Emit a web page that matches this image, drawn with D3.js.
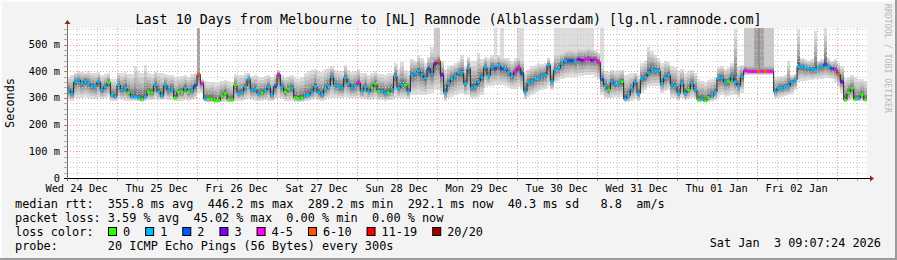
<!DOCTYPE html>
<html><head><meta charset="utf-8">
<script src="https://cdn.jsdelivr.net/npm/d3@7"></script>
<style>
html,body{margin:0;padding:0;background:#f3f3f3;}
svg{display:block;}
text{font-family:"DejaVu Sans Mono",monospace;white-space:pre;}
</style></head><body>
<svg id="c" width="897" height="260"></svg>
<script>
// ---- DATA (hourly, 240 steps over 10 days) ----
const median = [330,315,361,367,354,363,354,345,342,361,330,342,358,311,305,348,330,338,320,305,
305,301,296,305,323,320,348,323,308,348,327,333,301,323,323,338,323,327,345,388,
354,296,296,296,290,290,308,317,293,293,348,317,321,342,370,330,333,315,320,327,
342,311,342,388,342,323,333,338,301,296,301,308,311,323,342,320,311,333,345,379,
348,342,338,375,354,338,346,357,327,342,323,338,353,325,325,317,320,332,383,336,
348,348,323,386,392,401,388,375,409,390,428,438,386,320,354,371,383,395,395,354,
411,338,342,361,377,415,383,415,410,420,410,410,395,382,398,414,392,323,358,363,
370,376,382,386,424,363,405,410,428,439,440,440,436,445,440,444,446,441,445,434,
370,345,330,361,352,354,361,296,308,333,361,316,370,377,395,408,404,401,354,376,
386,348,345,317,354,317,330,354,330,292,296,289,301,308,321,375,375,358,361,380,
361,344,380,402,399,399,399,399,399,399,399,399,323,337,337,343,343,360,367,417,
417,411,411,407,407,413,417,426,417,411,407,388,361,292,320,336,294,297,311,292];
// lost pings (of 20) per step
const loss = [1,1,1,1,1,1,1,1,1,1,1,1,0,1,1,1,1,1,0,1,
1,1,0,1,0,0,1,1,1,1,1,1,0,0,0,1,0,1,2,7,
4,1,0,0,0,0,0,0,0,0,0,1,1,1,1,1,1,1,0,1,
1,1,2,4,1,0,0,1,0,0,0,1,1,1,1,1,1,1,1,1,
1,1,1,1,1,1,1,4,1,1,1,0,0,0,1,1,0,1,1,1,
1,0,1,1,1,1,1,1,2,1,3,7,3,1,1,1,1,1,1,1,
1,1,1,1,1,1,1,1,2,1,2,1,1,1,4,4,2,1,1,1,
1,1,1,1,1,1,1,1,1,1,2,2,1,3,3,4,4,3,4,4,
2,1,0,1,1,1,0,1,1,1,1,1,1,1,1,1,1,1,1,1,
1,1,1,1,1,1,0,1,1,0,1,0,0,1,1,1,1,1,0,1,
1,1,1,4,4,4,4,7,4,7,4,4,1,1,1,1,1,1,1,1,
1,1,1,1,1,1,1,2,1,2,4,7,3,0,0,0,0,1,0,0];
// fastest and slowest ping per step (ms)
const lo = [292,290,298,300,298,302,298,296,295,300,295,300,302,290,288,295,292,290,290,288,
288,287,286,288,292,292,296,294,292,296,294,294,288,290,290,292,290,292,296,320,
320,285,283,283,282,282,283,285,284,283,288,290,290,292,295,292,290,288,290,292,
290,288,295,300,295,290,290,290,286,285,286,288,290,292,295,292,290,294,298,300,
300,298,298,302,300,298,298,300,296,296,294,294,296,292,292,290,292,294,300,298,
300,298,296,310,312,315,312,310,315,320,330,330,310,288,300,305,310,315,318,310,
310,300,300,305,310,340,345,345,350,350,348,345,340,335,335,340,330,295,305,310,
320,325,330,335,345,330,360,365,370,375,378,380,380,382,382,385,385,385,380,370,
310,300,298,300,302,300,305,285,285,290,295,288,320,330,340,345,345,345,320,325,
330,300,298,292,298,292,295,300,295,285,285,283,285,288,292,305,310,305,308,312,
310,305,320,385,385,385,385,385,385,385,385,385,298,300,305,308,310,315,330,360,
365,365,368,368,370,370,372,375,375,372,360,340,320,286,288,292,288,287,290,288];
const hi = [380,385,395,400,398,395,400,395,392,398,385,388,392,372,370,395,392,398,390,388,
418,400,395,422,392,388,398,395,392,388,385,386,380,378,382,385,380,390,395,420,
372,362,358,360,356,358,365,368,362,360,388,385,386,392,395,384,386,380,378,382,
386,380,388,405,385,380,383,386,376,372,378,395,400,405,410,400,398,408,412,418,
405,402,400,425,405,398,402,408,392,395,385,395,400,390,388,386,392,395,430,410,
435,405,400,445,440,462,450,430,455,490,470,475,440,410,420,425,430,440,460,420,
455,440,438,467,445,455,450,460,455,462,455,450,448,440,450,455,450,400,410,420,
425,430,428,432,450,430,470,470,475,480,485,485,482,490,490,490,492,490,480,470,
420,400,398,405,400,402,405,385,388,392,395,385,430,440,490,475,460,450,430,440,
435,420,415,400,410,395,400,405,395,370,365,360,368,372,380,415,420,410,415,430,
560,420,425,430,430,430,430,430,430,430,430,430,380,378,382,385,440,385,390,555,
450,445,440,445,550,440,445,560,450,440,445,430,420,375,380,385,378,370,372,365];
// steps where outer smoke bands run off the top (lost pings), and how many bands
const tallIdx   = [39,110,111,128,130,135,136,146,147,148,149,150,151,152,153,154,155,156,157,160,203,204,205,206,207,208,209,210,211,227];
const tallBands = [4, 2,  2,  1,  1,  1,  1,  1,  1,  1,  1,  1,  1,  1,  1,  1,  1,  1,  1,  1,  2,  2,  2,  4,  5,  4,  2,  2,  2,  1];

const dayLabels = ["Wed 24 Dec","Thu 25 Dec","Fri 26 Dec","Sat 27 Dec","Sun 28 Dec","Mon 29 Dec","Tue 30 Dec","Wed 31 Dec","Thu 01 Jan","Fri 02 Jan"];
const yTicks = [0,100,200,300,400,500];
const lossLabels = ["0","1","2","3","4-5","6-10","11-19","20/20"];
const lossMax    = [0,1,2,3,5,10,19,20];
const lossColors = ["#26ff00","#00b8ff","#0059ff","#7e00ff","#ff00ff","#ff5500","#ff0000","#a10000"];
const titleText = "Last 10 Days from Melbourne to [NL] Ramnode (Alblasserdam) [lg.nl.ramnode.com]";
const legendRows = [
  "median rtt:  355.8 ms avg  446.2 ms max  289.2 ms min  292.1 ms now  40.3 ms sd   8.8  am/s",
  "packet loss: 3.59 % avg  45.02 % max  0.00 % min  0.00 % now",
  "loss color:",
  "probe:       20 ICMP Echo Pings (56 Bytes) every 300s"
];
const stampText = "Sat Jan  3 09:07:24 2026";
const yUnit = "Seconds";
const watermark = "RRDTOOL / TOBI OETIKER";

// ---- LAYOUT ----
const W = 897, H = 260;
const L = 67, R = 867, T = 28, B = 178;
const endT = Date.UTC(2026,0,3,9,7,24);
const startT = endT - 240*3600e3;
const svg = d3.select("#c");

const x = d3.scaleUtc().domain([startT, endT]).range([L, R]);
const y = d3.scaleLinear().domain([0, 562]).range([B, T]);
const tAt = i => startT + i*3600e3;

// frame
svg.append("rect").attr("width",W).attr("height",H).attr("fill","#f3f3f3");
svg.append("rect").attr("x",0).attr("y",0).attr("width",W).attr("height",2).attr("fill","#fcfcfc");
svg.append("rect").attr("x",0).attr("y",0).attr("width",2).attr("height",H).attr("fill","#fcfcfc");
svg.append("rect").attr("x",0).attr("y",H-2).attr("width",W).attr("height",2).attr("fill","#9b9b9b");
svg.append("rect").attr("x",W-2).attr("y",0).attr("width",2).attr("height",H).attr("fill","#9b9b9b");

// plot background
svg.append("rect").attr("x",L).attr("y",T).attr("width",R-L).attr("height",B-T).attr("fill","#ffffff");

// smoke
const bandColor = k => { const g = 50 + Math.floor(190/10*(10-k)); return d3.rgb(g,g,g).formatHex(); };
const tallMap = new Map(tallIdx.map((d,j)=>[d,tallBands[j]]));
const smoke = svg.append("g").attr("shape-rendering","crispEdges");
const cells = [];
median.forEach((m,i)=>{
  const nTop = tallMap.get(i) || 0;
  for (let k=1;k<=9;k++){
    const w = Math.pow((10-k)/9, 1.9);
    const vLo = m - (m - lo[i])*w;
    const vHi = k <= nTop ? 562 : m + (hi[i]-m)*w;
    cells.push({i,k,vLo,vHi});
  }
});
smoke.selectAll("rect").data(cells).join("rect")
  .attr("x", d => x(tAt(d.i)))
  .attr("width", d => x(tAt(d.i+1)) - x(tAt(d.i)) + 0.01)
  .attr("y", d => y(Math.min(562,d.vHi)))
  .attr("height", d => Math.max(0.5, y(d.vLo) - y(Math.min(562,d.vHi))))
  .attr("fill", d => bandColor(d.k));

// grid
const grid = svg.append("g");
const minorY = d3.range(20, 562, 20).filter(v => v % 100 !== 0);
grid.selectAll("line.my").data(minorY).join("line")
  .attr("x1",L).attr("x2",R).attr("y1",d=>Math.round(y(d))+0.5).attr("y2",d=>Math.round(y(d))+0.5)
  .attr("stroke","#c8c8c8").attr("stroke-dasharray","1,2");
const hours6 = d3.utcHour.every(6).range(new Date(startT), new Date(endT)).filter(d => d.getUTCHours() !== 0);
grid.selectAll("line.mx").data(hours6).join("line")
  .attr("x1",d=>Math.round(x(d))+0.5).attr("x2",d=>Math.round(x(d))+0.5).attr("y1",T).attr("y2",B)
  .attr("stroke","#c8c8c8").attr("stroke-dasharray","1,2");
const majorY = yTicks.filter(v => v > 0);
grid.selectAll("line.My").data(majorY).join("line")
  .attr("x1",L).attr("x2",R).attr("y1",d=>Math.round(y(d))+0.5).attr("y2",d=>Math.round(y(d))+0.5)
  .attr("stroke","#e89a9a").attr("stroke-dasharray","1,2");
const days = d3.utcDay.range(new Date(startT), new Date(endT));
grid.selectAll("line.Mx").data(days).join("line")
  .attr("x1",d=>Math.round(x(d))+0.5).attr("x2",d=>Math.round(x(d))+0.5).attr("y1",T).attr("y2",B)
  .attr("stroke","#e89a9a").attr("stroke-dasharray","1,2");

// median line
const pts = median.map((m,i)=>[x(tAt(i)), y(m)]);
pts.push([x(tAt(median.length)), y(median[median.length-1])]);
svg.append("path").attr("d", d3.line().curve(d3.curveStepAfter)(pts))
  .attr("fill","none").attr("stroke","#202020").attr("stroke-width",1);
const lossClass = l => lossMax.findIndex(mx => l <= mx);
svg.append("g").selectAll("line").data(median).join("line")
  .attr("x1",(m,i)=>x(tAt(i))).attr("x2",(m,i)=>x(tAt(i+1)))
  .attr("y1",m=>y(m)).attr("y2",m=>y(m))
  .attr("stroke",(m,i)=>lossColors[lossClass(loss[i])]).attr("stroke-width",2.6);

// axes
const ax = svg.append("g");
ax.selectAll("line.ty").data(minorY).join("line")
  .attr("x1",L-3).attr("x2",L).attr("y1",d=>Math.round(y(d))+0.5).attr("y2",d=>Math.round(y(d))+0.5)
  .attr("stroke","#b0b0b0");
ax.selectAll("line.tY").data(yTicks).join("line")
  .attr("x1",L-3).attr("x2",L).attr("y1",d=>Math.round(y(d))+0.5).attr("y2",d=>Math.round(y(d))+0.5)
  .attr("stroke","#d07070");
ax.selectAll("line.tx").data(hours6).join("line")
  .attr("x1",d=>Math.round(x(d))+0.5).attr("x2",d=>Math.round(x(d))+0.5).attr("y1",B).attr("y2",B+3)
  .attr("stroke","#b0b0b0");
ax.selectAll("line.tX").data(days).join("line")
  .attr("x1",d=>Math.round(x(d))+0.5).attr("x2",d=>Math.round(x(d))+0.5).attr("y1",B).attr("y2",B+3)
  .attr("stroke","#d07070");
ax.append("line").attr("x1",L-3).attr("x2",R+3).attr("y1",B+0.5).attr("y2",B+0.5).attr("stroke","#000");
ax.append("line").attr("x1",L+0.5).attr("x2",L+0.5).attr("y1",B+3).attr("y2",T-4).attr("stroke","#7a6a6a");
ax.append("path").attr("d",`M${R+3},${B-2.5}L${R+7},${B+0.5}L${R+3},${B+3.5}Z`).attr("fill","#9b2020");
ax.append("path").attr("d",`M${L-2.5},${T-4}L${L+0.5},${T-8}L${L+3.5},${T-4}Z`).attr("fill","#9b2020");

// y labels
ax.selectAll("text.yl").data(yTicks).join("text")
  .attr("x",60).attr("y",d=>y(d)+3.5).attr("text-anchor","end")
  .attr("font-size","10.37px").attr("fill","#000")
  .text(d => d === 0 ? "0" : d + " m");
// x labels at noon of each day
const labelDays = d3.utcDay.range(d3.utcDay.floor(new Date(startT)), new Date(endT))
  .map(d => d3.utcHour.offset(d, 12)).filter(d => +d >= startT && +d <= endT);
ax.selectAll("text.xl").data(dayLabels).join("text")
  .attr("x",(d,i)=>x(labelDays[i])).attr("y",191.5).attr("text-anchor","middle")
  .attr("font-size","10.37px").attr("fill","#000").text(d=>d);

// unit label
svg.append("text").attr("transform","translate(14,103) rotate(-90)").attr("text-anchor","middle")
  .attr("font-size","11.86px").attr("fill","#000").text(yUnit);

// title
svg.append("text").attr("x",448.5).attr("y",23.5).attr("text-anchor","middle")
  .attr("font-size","13.33px").attr("fill","#000").text(titleText);

// legend
const rowY = [208, 222, 236, 250];
svg.selectAll("text.lg").data(legendRows).join("text")
  .attr("x",15).attr("y",(d,i)=>rowY[i]).attr("font-size","11.86px").attr("fill","#000").text(d=>d);
const adv = 11.86*0.602;
let lx = 108;
const entries = lossLabels.map((lab,i)=>{ const e={lab,color:lossColors[i],bx:lx}; lx += 15 + lab.length*adv + 15; return e; });
const lg = svg.append("g");
lg.selectAll("rect").data(entries).join("rect")
  .attr("x",d=>d.bx+0.5).attr("y",227.5).attr("width",8).attr("height",8)
  .attr("fill",d=>d.color).attr("stroke","#000").attr("stroke-width",1);
lg.selectAll("text").data(entries).join("text")
  .attr("x",d=>d.bx+15).attr("y",236).attr("font-size","11.86px").attr("fill","#000").text(d=>d.lab);

svg.append("text").attr("x",881).attr("y",246.5).attr("text-anchor","end")
  .attr("font-size","11.86px").attr("fill","#000").text(stampText);

// watermark
svg.append("text").attr("transform","translate(885,4) rotate(90)")
  .attr("font-size","8.15px").attr("fill","#b8b8b8").attr("textLength",109).attr("lengthAdjust","spacingAndGlyphs")
  .text(watermark);
</script>
</body></html>
